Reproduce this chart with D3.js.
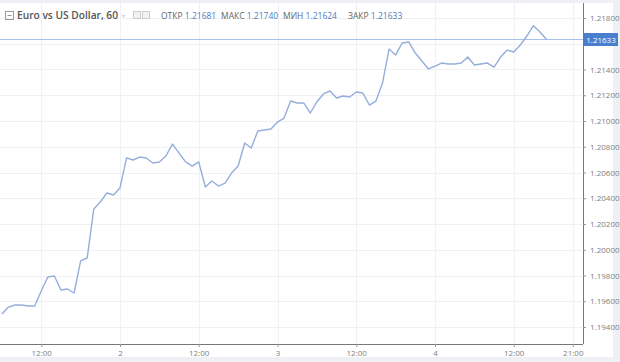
<!DOCTYPE html>
<html>
<head>
<meta charset="utf-8">
<script src="https://cdn.jsdelivr.net/npm/d3@7"></script>
<style>
  body { margin: 0; background: #eef0f4; }
  svg { display: block; font-family: "Open Sans", sans-serif; }
</style>
</head>
<body>
<div id="chart"></div>
<script>
// hourly closes, starting 1st 06:00
const startTime = new Date(2020, 11, 1, 6);
const closes = [
  1.19501, 1.19555, 1.19571, 1.19571, 1.19563, 1.19563, 1.19680, 1.19788, 1.19796, 1.19687,
  1.19695, 1.19664, 1.19913, 1.19936, 1.20316, 1.20371, 1.20441, 1.20425, 1.20480, 1.20713,
  1.20697, 1.20720, 1.20713, 1.20674, 1.20682, 1.20728, 1.20821, 1.20751, 1.20682, 1.20650,
  1.20682, 1.20487, 1.20534, 1.20495, 1.20518, 1.20596, 1.20650, 1.20829, 1.20790, 1.20922,
  1.20930, 1.20938, 1.20992, 1.21023, 1.21155, 1.21140, 1.21140, 1.21062, 1.21148, 1.21210,
  1.21233, 1.21179, 1.21194, 1.21186, 1.21225, 1.21217, 1.21124, 1.21155, 1.21295, 1.21559,
  1.21513, 1.21606, 1.21614, 1.21528, 1.21466, 1.21404, 1.21427, 1.21450, 1.21443, 1.21443,
  1.21450, 1.21497, 1.21435, 1.21443, 1.21450, 1.21419, 1.21497, 1.21551, 1.21536, 1.21590,
  1.21660, 1.21740, 1.21691, 1.21633
];
const priceTicks = [1.194, 1.196, 1.198, 1.200, 1.202, 1.204, 1.206, 1.208, 1.210, 1.212, 1.214, 1.218];
const timeTicks = [
  new Date(2020, 11, 1, 12), new Date(2020, 11, 2), new Date(2020, 11, 2, 12),
  new Date(2020, 11, 3), new Date(2020, 11, 3, 12), new Date(2020, 11, 4),
  new Date(2020, 11, 4, 12), new Date(2020, 11, 4, 21)
];
const headerLabels = ["ОТКР", "МАКС", "МИН", "ЗАКР"];
const headerValues = [1.21681, 1.21740, 1.21624, 1.21633];
const lastPrice = 1.21633;

const W = 620, H = 362;
const plot = { left: 0, top: 3, right: 583, bottom: 344 };

const svg = d3.select("#chart").append("svg").attr("width", W).attr("height", H);

svg.append("rect").attr("x", 0).attr("y", 3).attr("width", 613).attr("height", 354).attr("fill", "#fff");

const data = closes.map((v, i) => ({ t: d3.timeHour.offset(startTime, i), v: v }));

const x = d3.scaleTime()
  .domain([new Date(2020, 11, 2), new Date(2020, 11, 4)])
  .range([120, 435]);
const y = d3.scaleLinear().domain([1.194, 1.218]).range([327, 18]);

// grid
const grid = svg.append("g");
grid.selectAll(".hg").data(priceTicks.concat([1.216])).join("line")
  .attr("x1", plot.left).attr("x2", plot.right)
  .attr("y1", d => Math.round(y(d)) + 0.5).attr("y2", d => Math.round(y(d)) + 0.5)
  .attr("stroke", "#f0f1f3");
grid.selectAll(".vg").data(timeTicks).join("line")
  .attr("x1", d => Math.round(x(d)) + 0.5).attr("x2", d => Math.round(x(d)) + 0.5)
  .attr("y1", plot.top).attr("y2", plot.bottom)
  .attr("stroke", "#f0f1f3");

// last price line
svg.append("line")
  .attr("x1", plot.left).attr("x2", plot.right)
  .attr("y1", y(lastPrice)).attr("y2", y(lastPrice))
  .attr("stroke", "#a9c0ea").attr("stroke-width", 1);

// series
svg.append("path").datum(data)
  .attr("fill", "none")
  .attr("stroke", "#95aedb")
  .attr("stroke-width", 1.4)
  .attr("stroke-linejoin", "round")
  .attr("d", d3.line().x(d => x(d.t)).y(d => y(d.v)));

// axes
const fmtTime = d => (d.getHours() === 0 ? d3.timeFormat("%-d")(d) : d3.timeFormat("%H:%M")(d));
const xAxis = svg.append("g")
  .attr("transform", `translate(0,${plot.bottom})`)
  .call(d3.axisBottom(x).tickValues(timeTicks).tickFormat(fmtTime).tickSize(3).tickPadding(3));
xAxis.select(".domain").attr("d", `M${plot.left},0.5H${plot.right}`).attr("stroke", "#777");

const yAxis = svg.append("g")
  .attr("transform", `translate(${plot.right},0)`)
  .call(d3.axisRight(y).tickValues(priceTicks).tickFormat(d3.format(".5f")).tickSize(3).tickPadding(4));
yAxis.select(".domain").attr("d", `M0.5,${plot.top}V${plot.bottom}`).attr("stroke", "#777");

svg.selectAll(".tick line").attr("stroke", "#999");
svg.selectAll(".tick text").attr("fill", "#808080").style("font-size", "8px").style("font-family", "Open Sans, sans-serif");

// last price badge
const badge = svg.append("g").attr("transform", `translate(${plot.right + 1},${y(lastPrice)})`);
badge.append("rect").attr("x", 0).attr("y", -6.5).attr("width", 34).attr("height", 13).attr("fill", "#4a7fd0");
badge.append("text").attr("x", 17).attr("y", 3).attr("text-anchor", "middle")
  .attr("fill", "#fff").style("font-size", "8px").text(d3.format(".5f")(lastPrice));

// header
const head = svg.append("g");
head.append("rect").attr("x", 5.5).attr("y", 11.5).attr("width", 8).attr("height", 8)
  .attr("fill", "none").attr("stroke", "#999");
head.append("line").attr("x1", 7.5).attr("x2", 11.5).attr("y1", 15.5).attr("y2", 15.5).attr("stroke", "#999");
head.append("text").attr("x", 17).attr("y", 19)
  .attr("fill", "#555").style("font-size", "10.2px").style("font-weight", 600)
  .text("Euro vs US Dollar, 60");
head.append("text").attr("x", 122).attr("y", 18).attr("fill", "#ccc").style("font-size", "6px").text("▾");
[133, 142].forEach(px => {
  head.append("rect").attr("x", px + 0.5).attr("y", 11.5).attr("width", 7).attr("height", 7)
    .attr("fill", "#f2f2f2").attr("stroke", "#ccc");
});
const labelX = [161, 221, 283, 348];
headerLabels.forEach((lab, i) => {
  const t = head.append("text").attr("x", labelX[i]).attr("y", 19).style("font-size", "8.5px");
  t.append("tspan").attr("fill", "#666").text(lab + " ");
  t.append("tspan").attr("fill", "#4f7cc0").text(d3.format(".5f")(headerValues[i]));
});
</script>
</body>
</html>
